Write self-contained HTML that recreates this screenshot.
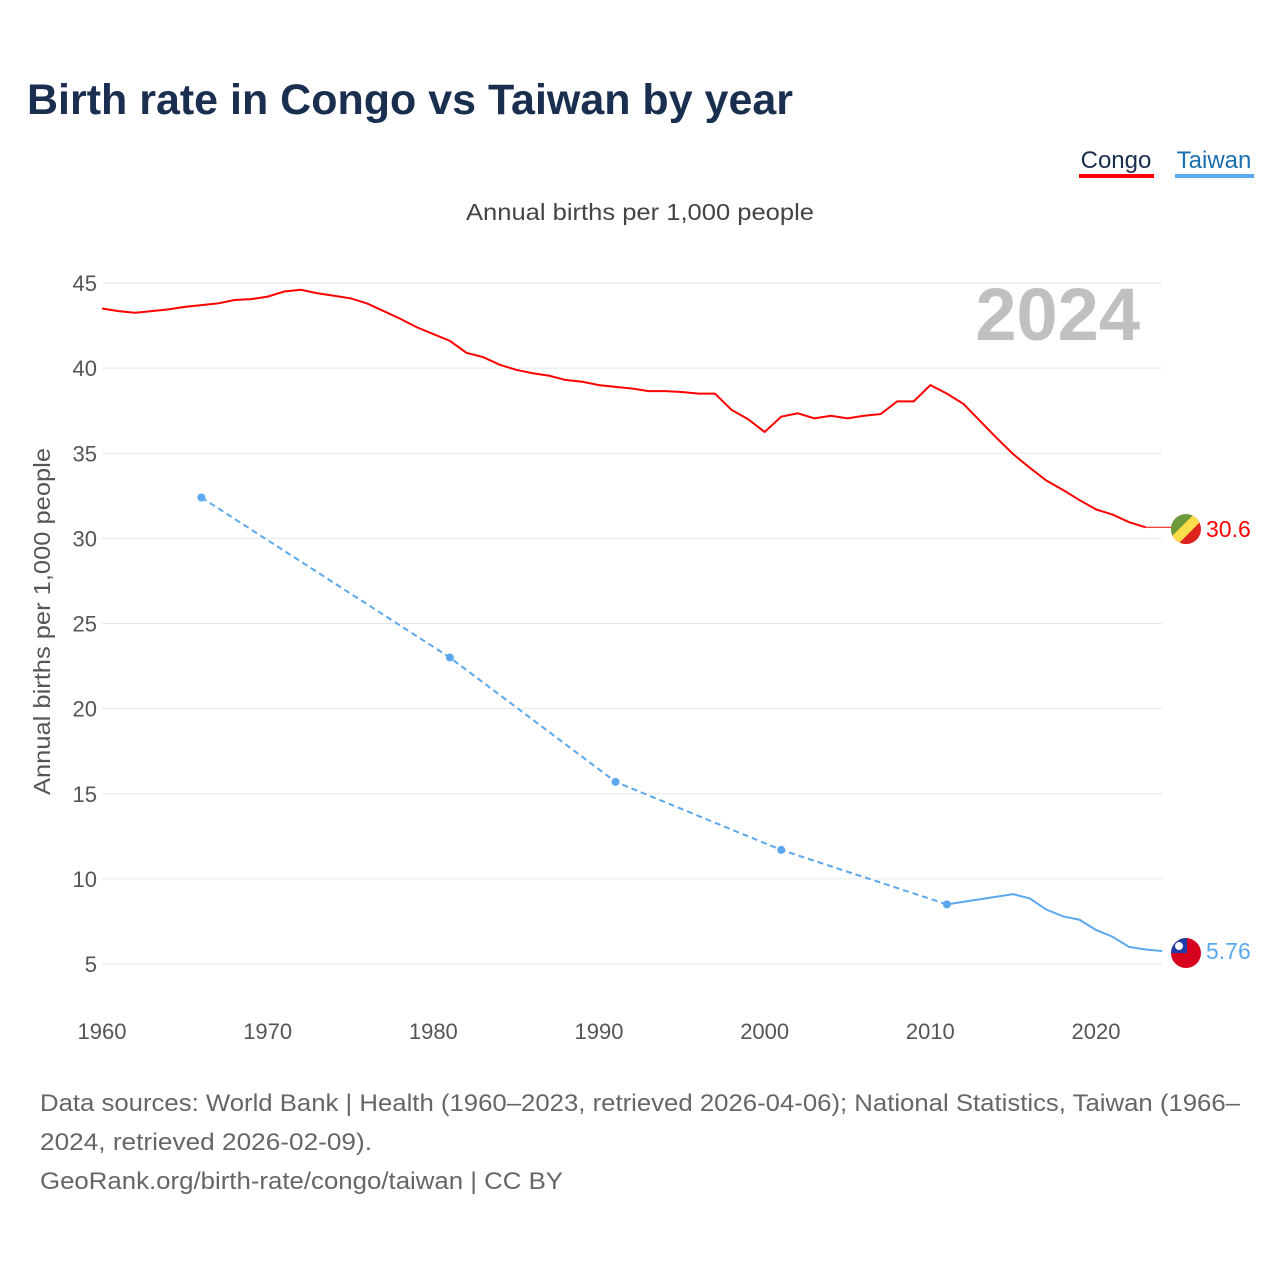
<!DOCTYPE html>
<html><head><meta charset="utf-8">
<style>
body{margin:0;background:#fff;font-family:"Liberation Sans",sans-serif;}
#wrap{position:relative;width:1280px;height:1280px;}
</style></head>
<body>
<div id="wrap">
<svg id="chart" width="1280" height="1280" font-family="Liberation Sans, sans-serif">
<text x="27" y="114" font-size="43" font-weight="bold" fill="#1a2e4f" textLength="766" lengthAdjust="spacingAndGlyphs">Birth rate in Congo vs Taiwan by year</text>
<g><text x="1116" y="168" font-size="24" fill="#1a2e4f" text-anchor="middle">Congo</text><rect x="1079" y="174" width="75" height="4" fill="#ff0000"/></g>
<g><text x="1214" y="168" font-size="24" fill="#1a6fb0" text-anchor="middle">Taiwan</text><rect x="1175" y="174" width="79" height="4" fill="#5ba8ee"/></g>
<text x="466" y="220" font-size="23" fill="#444" textLength="348" lengthAdjust="spacingAndGlyphs">Annual births per 1,000 people</text>
<text transform="translate(50,795) rotate(-90)" font-size="23" fill="#555" textLength="347" lengthAdjust="spacingAndGlyphs">Annual births per 1,000 people</text>
<text x="1140" y="340" font-size="74" font-weight="bold" fill="#c0c0c0" text-anchor="end">2024</text>
<g id="grid"></g><g id="series"></g>
<text x="40" y="1111" font-size="24" fill="#666" textLength="1200" lengthAdjust="spacingAndGlyphs">Data sources: World Bank | Health (1960–2023, retrieved 2026-04-06); National Statistics, Taiwan (1966–</text>
<text x="40" y="1150" font-size="24" fill="#666" textLength="332" lengthAdjust="spacingAndGlyphs">2024, retrieved 2026-02-09).</text>
<text x="40" y="1189" font-size="24" fill="#666" textLength="523" lengthAdjust="spacingAndGlyphs">GeoRank.org/birth-rate/congo/taiwan | CC BY</text>
</svg></div>
<script>
const yTicks=[5,10,15,20,25,30,35,40,45];
const xTicks=[1960,1970,1980,1990,2000,2010,2020];
const congoYears=[];for(let y=1960;y<=2023;y++)congoYears.push(y);
const congoValues=[43.5,43.35,43.25,43.35,43.45,43.6,43.7,43.8,44.0,44.05,44.2,44.5,44.6,44.4,44.25,44.1,43.8,43.35,42.9,42.4,42.0,41.6,40.9,40.65,40.2,39.9,39.7,39.55,39.3,39.2,39.0,38.9,38.8,38.65,38.65,38.6,38.5,38.5,37.55,37.0,36.25,37.15,37.35,37.05,37.2,37.05,37.2,37.3,38.05,38.05,39.0,38.5,37.9,36.9,35.9,34.95,34.15,33.4,32.85,32.25,31.7,31.4,30.95,30.65];
const taiwanSparseYears=[1966,1981,1991,2001,2011];
const taiwanSparseValues=[32.4,23.0,15.7,11.7,8.5];
const taiwanYears=[2011,2015,2016,2017,2018,2019,2020,2021,2022,2023,2024];
const taiwanValues=[8.5,9.1,8.85,8.2,7.8,7.6,7.0,6.6,6.0,5.85,5.76];
const NS="http://www.w3.org/2000/svg";
const X=y=>102+(y-1960)*(1096-102)/60;
const Y=v=>964-(v-5)*(964-283)/40;
function mk(t,a,p){const e=document.createElementNS(NS,t);for(const k in a)e.setAttribute(k,a[k]);p.appendChild(e);return e;}
const g=document.getElementById('grid'),s=document.getElementById('series');
yTicks.forEach(v=>{
 const l=mk('line',{x1:102,x2:1162,y1:Y(v),y2:Y(v),stroke:'#e6e6e6','stroke-width':1},g);
 
 
 const t=mk('text',{x:97,y:Y(v)+8,'font-size':22,fill:'#555','text-anchor':'end'},g);t.textContent=v;
 
 
});
xTicks.forEach(v=>{
 const t=mk('text',{x:X(v),y:1039,'font-size':22,fill:'#555','text-anchor':'middle'},g);t.textContent=v;
 
 
});
const pts=(xs,vs)=>xs.map((y,i)=>X(y)+','+Y(vs[i])).join(' ');
const c=mk('polyline',{points:pts(congoYears,congoValues),fill:'none',stroke:'#ff0000','stroke-width':2},s);


const cl=congoValues[congoValues.length-1];
const ce=mk('line',{x1:X(2023),x2:X(2024)+10,y1:Y(cl),y2:Y(cl),stroke:'#ff0000','stroke-width':1},s);


const td=mk('polyline',{points:pts(taiwanSparseYears,taiwanSparseValues),fill:'none',stroke:'#5ba8ee','stroke-width':2,'stroke-dasharray':'6,4'},s);


taiwanSparseYears.forEach((y,i)=>{const d=mk('circle',{cx:X(y),cy:Y(taiwanSparseValues[i]),r:4,fill:'#5ba8ee'},s);
 
 });
const ts=mk('polyline',{points:pts(taiwanYears,taiwanValues),fill:'none',stroke:'#5ba8ee','stroke-width':2},s);


const fy1=Y(30.6)+1,fy2=Y(5.76)+2,fx=1186;
const f1=mk('g',{},s);


mk('clipPath',{id:'cc'},f1).appendChild(document.createElementNS(NS,'circle'));
const cc=f1.querySelector('clipPath circle');cc.setAttribute('cx',fx);cc.setAttribute('cy',fy1);cc.setAttribute('r',15);
const fg=mk('g',{'clip-path':'url(#cc)'},f1);
mk('rect',{x:fx-15,y:fy1-15,width:30,height:30,fill:'#dc241f'},fg);
mk('polygon',{points:`${fx-15},${fy1-15} ${fx+8},${fy1-15} ${fx-15},${fy1+8}`,fill:'#6a9a3a'},fg);
mk('polygon',{points:`${fx+8},${fy1-15} ${fx+15},${fy1-15} ${fx+15},${fy1-8} ${fx-8},${fy1+15} ${fx-15},${fy1+15} ${fx-15},${fy1+8}`,fill:'#fbde4a'},fg);
const l1=mk('text',{x:1206,y:fy1+8,'font-size':23,fill:'#ff0000'},s);l1.textContent='30.6';


const f2=mk('g',{},s);


mk('clipPath',{id:'tc'},f2);
mk('circle',{cx:fx,cy:fy2,r:15},f2.querySelector('#tc'));
const tg=mk('g',{'clip-path':'url(#tc)'},f2);
mk('rect',{x:fx-15,y:fy2-15,width:30,height:30,fill:'#d7001e'},tg);
mk('rect',{x:fx-15,y:fy2-15,width:16,height:15,fill:'#1f3ea8'},tg);
mk('circle',{cx:fx-7,cy:fy2-7,r:4,fill:'#fff'},tg);
const l2=mk('text',{x:1206,y:fy2+6,'font-size':23,fill:'#5ba8ee'},s);l2.textContent='5.76';


</script>
</body></html>
